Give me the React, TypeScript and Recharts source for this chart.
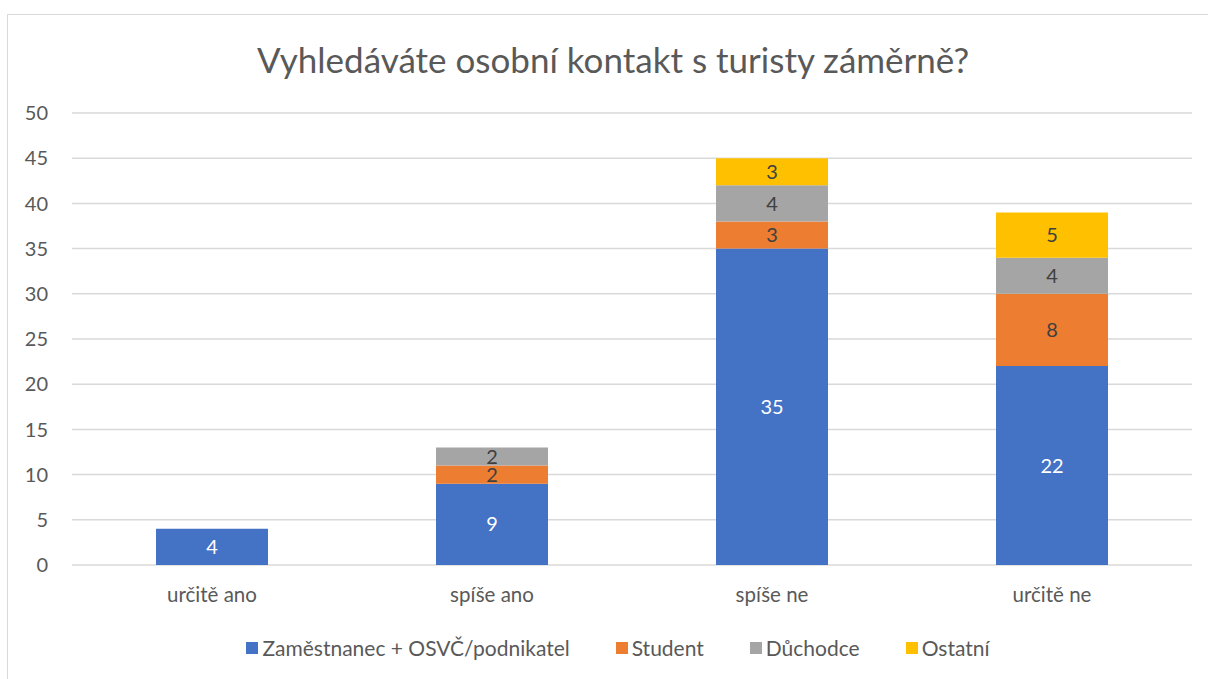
import { BarChart, Bar, XAxis, YAxis, CartesianGrid, LabelList } from "recharts"

const categories = ["určitě ano", "spíše ano", "spíše ne", "určitě ne"]
const zamestnanec = [4, 9, 35, 22]
const student = [0, 2, 3, 8]
const duchodce = [0, 2, 4, 4]
const ostatni = [0, 0, 3, 5]
const yTicks = [0, 5, 10, 15, 20, 25, 30, 35, 40, 45, 50]

const series = [
  { key: "zam", name: "Zaměstnanec + OSVČ/podnikatel", color: "#4472C4", label: "#FFFFFF" },
  { key: "stu", name: "Student", color: "#ED7D31", label: "#404040" },
  { key: "duc", name: "Důchodce", color: "#A5A5A5", label: "#404040" },
  { key: "ost", name: "Ostatní", color: "#FFC000", label: "#404040" },
]

const data = categories.map((name, i) => ({
  name,
  zam: zamestnanec[i],
  stu: student[i],
  duc: duchodce[i],
  ost: ostatni[i],
}))

const font = "Lato, 'Open Sans', sans-serif"
const textColor = "#595959"

export default function App() {
  return (
    <div style={{ position: "absolute", left: 0, top: 0, width: 1208, height: 679, background: "#fff", fontFamily: font, overflow: "hidden" }}>
      <div style={{ position: "absolute", left: 7, top: 14, width: 1210, height: 700, border: "1px solid #D9D9D9", boxSizing: "border-box" }} />
      <div style={{ position: "absolute", left: 0, top: 38, width: 1226, textAlign: "center", fontSize: 35, color: textColor }}>
        Vyhledáváte osobní kontakt s turisty záměrně?
      </div>
      <div style={{ position: "absolute", left: 0, top: 0 }}>
        <BarChart width={1208} height={679} data={data} margin={{ top: 113, right: 16, left: 0, bottom: 84 }} barCategoryGap="30%">
          <CartesianGrid vertical={false} stroke="#D9D9D9" strokeWidth={1.5} />
          <XAxis
            dataKey="name"
            height={30}
            axisLine={false}
            tickLine={false}
            tickSize={0}
            tickMargin={22}
            tick={{ fill: textColor, fontSize: 20.5, fontFamily: font }}
          />
          <YAxis
            width={72}
            domain={[0, 50]}
            ticks={yTicks}
            axisLine={false}
            tickLine={false}
            tickSize={0}
            tickMargin={24}
            tick={{ fill: textColor, fontSize: 20, fontFamily: font }}
          />
          {series.map((s) => (
            <Bar key={s.key} dataKey={s.key} name={s.name} stackId="a" fill={s.color} isAnimationActive={false}>
              <LabelList
                dataKey={s.key}
                position="center"
                fill={s.label}
                fontSize={20}
                fontFamily={font}
                formatter={(v: number) => (v ? v : "")}
              />
            </Bar>
          ))}
        </BarChart>
      </div>
      <div style={{ position: "absolute", left: 0, top: 635, width: 1236, display: "flex", justifyContent: "center", fontSize: 21, color: textColor }}>
        {series.map((s) => (
          <div key={s.key} style={{ display: "flex", alignItems: "center", margin: "0 23px" }}>
            <span style={{ display: "inline-block", width: 12, height: 12, background: s.color, marginRight: 4 }} />
            <span>{s.name}</span>
          </div>
        ))}
      </div>
    </div>
  )
}
